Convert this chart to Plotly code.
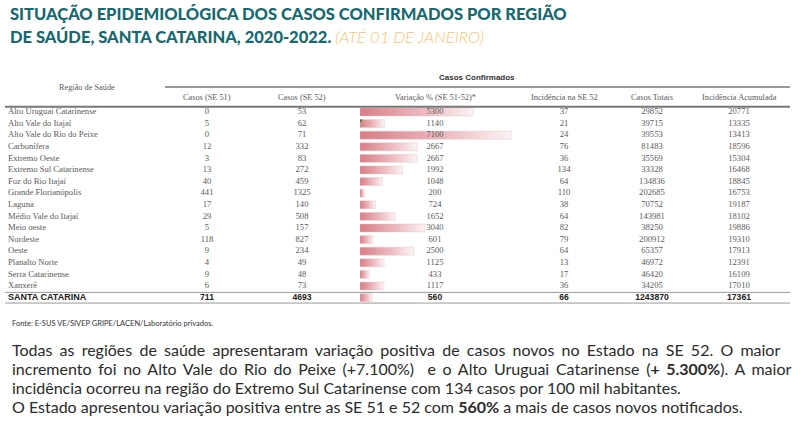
import plotly.graph_objects as go

regioes = ["Alto Uruguai Catarinense", "Alto Vale do Itajaí", "Alto Vale do Rio do Peixe",
           "Carbonífera", "Extremo Oeste", "Extremo Sul Catarinense", "Foz do Rio Itajaí",
           "Grande Florianópolis", "Laguna", "Médio Vale do Itajaí", "Meio oeste", "Nordeste",
           "Oeste", "Planalto Norte", "Serra Catarinense", "Xanxerê"]
casos_se51 = [0, 5, 0, 12, 3, 13, 40, 441, 17, 29, 5, 118, 9, 4, 9, 6]
casos_se52 = [53, 62, 71, 332, 83, 272, 459, 1325, 140, 508, 157, 827, 234, 49, 48, 73]
variacao = [5300, 1140, 7100, 2667, 2667, 1992, 1048, 200, 724, 1652, 3040, 601, 2500, 1125, 433, 1117]
incid_se52 = [37, 21, 24, 76, 36, 134, 64, 110, 38, 64, 82, 79, 64, 13, 17, 36]
casos_totais = [29852, 39715, 39553, 81483, 35569, 33328, 134836, 202685, 70752, 143981,
                38250, 200912, 65357, 46972, 46420, 34205]
incid_acum = [20771, 13335, 13413, 18596, 15304, 16468, 18845, 16753, 19187, 18102,
              19886, 19310, 17913, 12391, 16109, 17010]
total_label = "SANTA CATARINA"
total_row = [711, 4693, 560, 66, 1243870, 17361]

col_headers = ["Casos (SE 51)", "Casos (SE 52)", "Variação % (SE 51-52)*",
               "Incidência na SE 52", "Casos Totais", "Incidência Acumulada"]

W, H = 800, 423
TEAL = "#16696f"
ORANGE = "#f6c56e"
SERIF = "Liberation Serif"
SANS = "Liberation Sans"
CELL = "#5a5a5a"

n = len(regioes)
rows = list(range(n))
tot_y = n
# row 0 centred at y=112 px, row pitch ~11.6 px
y0_px, pitch = 112, 11.6
yr = [(H - y0_px) / pitch, -y0_px / pitch]

def px_x(p):
    return p / W

def px_y(p):
    return 1 - p / H

col_x = [207, 302, 435, 564, 652, 739]
value_cols = [casos_se51, casos_se52, variacao, incid_se52, casos_totais, incid_acum]

fig = go.Figure()

# data bars (gradient to white) on x, the bar column's own axis
for i, v in enumerate(variacao + [total_row[2]]):
    fig.add_trace(go.Scatter(
        x=[0, v, v, 0, 0], y=[i - 0.34, i - 0.34, i + 0.34, i + 0.34, i - 0.34],
        xaxis="x", yaxis="y", mode="lines", fill="toself",
        line=dict(color="rgba(225,190,194,0.7)", width=0.6),
        fillgradient=dict(type="horizontal",
                          colorscale=[[0, "rgb(217,125,134)"], [0.55, "rgb(236,185,190)"],
                                      [1, "rgb(253,244,245)"]]),
        hoverinfo="skip", showlegend=False))

# Excel comment marker
fig.add_trace(go.Scatter(x=[0], y=[1 - 0.22], xaxis="x", yaxis="y", mode="markers",
                         marker=dict(symbol="triangle-nw", size=5, color="#2f7d32"),
                         hoverinfo="skip", showlegend=False))

# text layer on x2 (full width, pixel units), drawn above the bars
fig.add_trace(go.Scatter(x=[8] * n, y=rows, xaxis="x2", mode="text", text=regioes,
                         textposition="middle right",
                         textfont=dict(family=SERIF, size=8.6, color=CELL),
                         hoverinfo="skip", showlegend=False))
fig.add_trace(go.Scatter(x=[8], y=[tot_y], xaxis="x2", mode="text",
                         text=["<b>" + total_label + "</b>"], textposition="middle right",
                         textfont=dict(family=SANS, size=9, color="#222222"),
                         hoverinfo="skip", showlegend=False))

for cx, vals, tv in zip(col_x, value_cols, total_row):
    fig.add_trace(go.Scatter(x=[cx] * n, y=rows, xaxis="x2", mode="text",
                             text=[str(v) for v in vals], textposition="middle center",
                             textfont=dict(family=SERIF, size=8.6, color=CELL),
                             hoverinfo="skip", showlegend=False))
    fig.add_trace(go.Scatter(x=[cx], y=[tot_y], xaxis="x2", mode="text",
                             text=["<b>%d</b>" % tv], textposition="middle center",
                             textfont=dict(family=SANS, size=8.6, color="#222222"),
                             hoverinfo="skip", showlegend=False))

ann = []
# table headers
for cx, h in zip(col_x, col_headers):
    ann.append(dict(x=cx, y=-1.29, xref="x2", yref="y", text=h, showarrow=False,
                    font=dict(family=SERIF, size=8.3, color=CELL)))
ann.append(dict(x=87, y=-2.07, xref="x2", yref="y", text="Região de Saúde", showarrow=False,
                font=dict(family=SERIF, size=8.3, color=CELL)))
ann.append(dict(x=477, y=-3.0, xref="x2", yref="y", text="<b>Casos Confirmados</b>",
                showarrow=False, font=dict(family=SANS, size=8, color="#333333")))

# title
ann.append(dict(x=px_x(8), y=px_y(14), xref="paper", yref="paper", xanchor="left",
                yanchor="middle",
                text="SITUAÇÃO EPIDEMIOLÓGICA DOS CASOS CONFIRMADOS POR REGIÃO",
                showarrow=False, font=dict(family="Lato", size=16.5, color=TEAL, weight=900)))
ann.append(dict(x=px_x(8), y=px_y(37), xref="paper", yref="paper", xanchor="left",
                yanchor="middle",
                text="DE SAÚDE, SANTA CATARINA, 2020-2022. "
                     "<span style='color:%s;font-weight:300;font-style:italic'>(ATÉ 01 DE JANEIRO)</span>"
                     % ORANGE,
                showarrow=False, font=dict(family="Lato", size=16.5, color=TEAL, weight=900)))

# source
ann.append(dict(x=px_x(10), y=px_y(323), xref="paper", yref="paper", xanchor="left",
                yanchor="middle", text="Fonte: E-SUS VE/SIVEP GRIPE/LACEN/Laboratório privados.",
                showarrow=False, font=dict(family="Lato", size=7.5, color="#333333")))

# commentary (first two lines stretched to look justified)
body = [
    ("Todas as regiões de saúde apresentaram variação positiva de casos novos no Estado na SE 52. O maior", 3.1),
    ("incremento foi no Alto Vale do Rio do Peixe (+7.100%)  e o Alto Uruguai Catarinense (<b>+ 5.300%</b>). A maior", 2.6),
    ("incidência ocorreu na região do Extremo Sul Catarinense com 134 casos por 100 mil habitantes.", 0),
    ("O Estado apresentou variação positiva entre as SE 51 e 52 com <b>560%</b> a mais de casos novos notificados.", 0),
]
for k, (line, ws) in enumerate(body):
    txt = "<span style='word-spacing:%.1fpx'>%s</span>" % (ws, line) if ws else line
    ann.append(dict(x=px_x(10), y=px_y(349 + 19 * k), xref="paper", yref="paper",
                    xanchor="left", yanchor="middle", text=txt, showarrow=False,
                    font=dict(family="Lato", size=16, color="#2b2b2b")))

shapes = [
    dict(type="line", xref="x2", yref="y", x0=165, x1=790, y0=-2.16, y1=-2.16,
         line=dict(color="#777777", width=1.5)),
    dict(type="line", xref="x2", yref="y", x0=5, x1=790, y0=-0.45, y1=-0.45,
         line=dict(color="#777777", width=2)),
    dict(type="line", xref="x2", yref="y", x0=5, x1=790, y0=n - 0.45, y1=n - 0.45,
         line=dict(color="#999999", width=1)),
    dict(type="line", xref="x2", yref="y", x0=5, x1=790, y0=n + 0.47, y1=n + 0.47,
         line=dict(color="#999999", width=1)),
]

fig.update_layout(
    width=W, height=H, margin=dict(l=0, r=0, t=0, b=0),
    paper_bgcolor="white", plot_bgcolor="rgba(0,0,0,0)",
    xaxis=dict(domain=[360 / W, 512 / W], range=[0, max(variacao)], anchor="y",
               visible=False, fixedrange=True),
    xaxis2=dict(domain=[0, 1], range=[0, W], anchor="y", visible=False, fixedrange=True),
    yaxis=dict(range=yr, visible=False, fixedrange=True),
    annotations=ann, shapes=shapes,
)

fig.write_html("out.html", config={"displayModeBar": False},
               post_script="document.body.style.margin='0';")
